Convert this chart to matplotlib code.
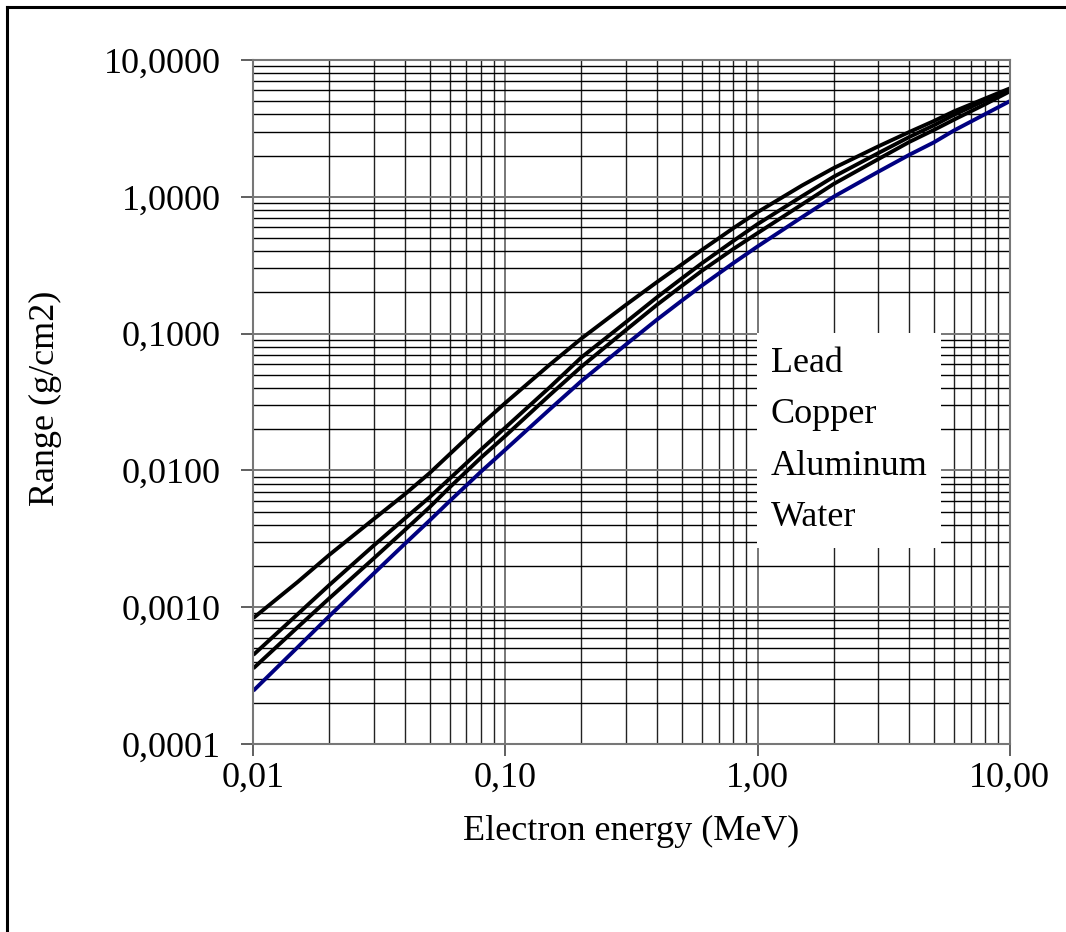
import matplotlib
matplotlib.use("Agg")
import matplotlib.pyplot as plt
from matplotlib.lines import Line2D
from matplotlib.ticker import FixedLocator, FixedFormatter, LogLocator, NullFormatter

plt.rcParams['font.family'] = ['Liberation Serif', 'DejaVu Serif']

# ---------------- data ----------------
energy = [0.01, 0.015, 0.02, 0.03, 0.04, 0.05, 0.06, 0.08, 0.1, 0.15, 0.2, 0.3,
          0.4, 0.5, 0.6, 0.8, 1.0, 1.5, 2.0, 3.0, 4.0, 5.0, 6.0, 8.0, 10.0]

lead = [8.33e-4, 1.53e-3, 2.41e-3, 4.4e-3, 6.72e-3, 9.55e-3, 1.31e-2, 2.16e-2, 3.12e-2,
        5.94e-2, 9.2e-2, 0.162, 0.239, 0.320, 0.408, 0.589, 0.773, 1.21, 1.62, 2.33,
        2.98, 3.58, 4.21, 5.24, 6.2]
copper = [4.48e-4, 8.9e-4, 1.45e-3, 2.82e-3, 4.47e-3, 6.36e-3, 8.69e-3, 1.42e-2, 2.06e-2,
          4.06e-2, 6.7e-2, 0.121, 0.185, 0.253, 0.326, 0.475, 0.632, 1.01, 1.40, 2.08,
          2.74, 3.33, 3.97, 5.08, 6.1]
aluminum = [3.57e-4, 7.14e-4, 1.16e-3, 2.27e-3, 3.68e-3, 5.38e-3, 7.5e-3, 1.24e-2, 1.79e-2,
            3.56e-2, 5.73e-2, 0.106, 0.163, 0.223, 0.287, 0.415, 0.543, 0.88, 1.24, 1.88,
            2.52, 3.08, 3.66, 4.76, 5.9]
water = [2.45e-4, 5.1e-4, 8.6e-4, 1.76e-3, 2.92e-3, 4.3e-3, 5.95e-3, 9.8e-3, 1.42e-2,
         2.8e-2, 4.5e-2, 8.3e-2, 0.127, 0.174, 0.224, 0.327, 0.434, 0.71, 1.0, 1.52,
         2.03, 2.5, 3.05, 4.03, 5.0]

series_names = ["Lead", "Copper", "Aluminum", "Water"]

x_ticks = [0.01, 0.1, 1.0, 10.0]
x_tick_labels = ["0,01", "0,10", "1,00", "10,00"]
y_ticks = [0.0001, 0.001, 0.01, 0.1, 1.0, 10.0]
y_tick_labels = ["0,0001", "0,0010", "0,0100", "0,1000", "1,0000", "10,0000"]

x_label = "Electron energy (MeV)"
y_label = "Range (g/cm2)"

# ---------------- figure ----------------
W, H = 1066, 932
FS = 26
fig = plt.figure(figsize=(W / 100, H / 100), dpi=100)
fig.patch.set_facecolor('white')

ax_l, ax_r, ax_t, ax_b = 253.3, 1009.8, 60.0, 744.0
ax = fig.add_axes([ax_l / W, 1 - ax_b / H, (ax_r - ax_l) / W, (ax_b - ax_t) / H])

colors = ['black', 'black', 'black', '#000080']
for vals, name, c in zip([lead, copper, aluminum, water], series_names, colors):
    ax.plot(energy, vals, color=c, lw=2.8, label=name, solid_joinstyle='round',
            solid_capstyle='butt')

ax.set_xscale('log')
ax.set_yscale('log')
ax.set_xlim(0.01, 10)
ax.set_ylim(0.0001, 10)

ax.xaxis.set_major_locator(FixedLocator(x_ticks))
ax.xaxis.set_major_formatter(FixedFormatter(x_tick_labels))
ax.yaxis.set_major_locator(FixedLocator(y_ticks))
ax.yaxis.set_major_formatter(FixedFormatter(y_tick_labels))
ax.xaxis.set_minor_locator(LogLocator(base=10, subs=range(2, 10), numticks=20))
ax.yaxis.set_minor_locator(LogLocator(base=10, subs=range(2, 10), numticks=20))
ax.xaxis.set_minor_formatter(NullFormatter())
ax.yaxis.set_minor_formatter(NullFormatter())

ax.grid(True, which='major', color='#777777', lw=1.4, zorder=0)
ax.grid(True, which='minor', axis='y', color='black', lw=1.0, zorder=0)
ax.grid(True, which='minor', axis='x', color='#222222', lw=1.0, zorder=0)
ax.set_axisbelow(True)

ax.tick_params(which='major', direction='out', length=8.6, width=1.2, color='#444444',
               labelsize=FS)
ax.tick_params(axis='y', which='major', pad=15)
ax.tick_params(axis='x', which='major', pad=4)
ax.tick_params(which='minor', length=0)

for s in ax.spines.values():
    s.set_color('#777777')
    s.set_linewidth(1.5)

# legend: text only, white box, no frame
leg = ax.legend(loc='upper left', bbox_to_anchor=((757 - ax_l) / (ax_r - ax_l),
                                                  (ax_b - 333) / (ax_b - ax_t)),
                borderaxespad=0, frameon=True, fancybox=False, fontsize=FS,
                handlelength=0, handletextpad=0, borderpad=0.38, labelspacing=0.5)
leg.get_frame().set_edgecolor('none')
leg.get_frame().set_facecolor('white')
leg.get_frame().set_alpha(1)
for h in leg.legend_handles:
    h.set_visible(False)

# axis titles
fig.text(631 / W, 1 - 840 / H, x_label, ha='center', va='baseline', fontsize=FS)
fig.text(45 / W, 1 - 398 / H, y_label, ha='center', va='center', rotation=90, fontsize=FS)

# outer frame (left and top edges visible; rest cropped)
fig.add_artist(Line2D([6.5 / W, 6.5 / W], [0, 1 - 6.5 / H], transform=fig.transFigure,
                      color='black', lw=2.2))
fig.add_artist(Line2D([6.5 / W, 1], [1 - 6.5 / H, 1 - 6.5 / H], transform=fig.transFigure,
                      color='black', lw=2.2))

fig.savefig('out.png', dpi=100, facecolor='white')
